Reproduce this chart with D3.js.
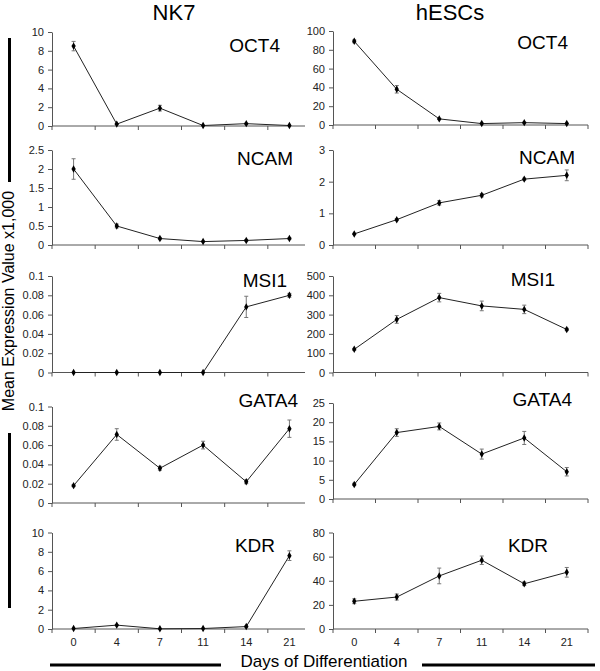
<!DOCTYPE html>
<html><head><meta charset="utf-8">
<script src="https://cdn.jsdelivr.net/npm/d3@7"></script>
<style>body{margin:0;background:#fff}svg{display:block}</style>
</head><body>
<svg id="c" width="600" height="671"></svg>
<script>
// ---- data ----
const days = ["0","4","7","11","14","21"];
const genes = ["OCT4","NCAM","MSI1","GATA4","KDR"];
const columnTitles = ["NK7","hESCs"];

const nk7OCT4 = [8.5, 0.2, 1.9, 0.05, 0.25, 0.05];
const nk7OCT4Err = [0.5, 0.05, 0.3, 0, 0.05, 0];
const nk7NCAM = [2.0, 0.5, 0.17, 0.09, 0.12, 0.17];
const nk7NCAMErr = [0.27, 0.05, 0.03, 0.01, 0.02, 0.02];
const nk7MSI1 = [0, 0, 0, 0, 0.068, 0.080];
const nk7MSI1Err = [0, 0, 0, 0, 0.011, 0.002];
const nk7GATA4 = [0.018, 0.071, 0.036, 0.060, 0.022, 0.077];
const nk7GATA4Err = [0.001, 0.006, 0.002, 0.004, 0.002, 0.009];
const nk7KDR = [0.05, 0.4, 0.02, 0.05, 0.25, 7.6];
const nk7KDRErr = [0, 0.05, 0, 0, 0.05, 0.5];

const hescOCT4 = [89, 38, 6.5, 1.5, 2.5, 1.5];
const hescOCT4Err = [1.5, 4, 0.5, 0.3, 0.5, 0.3];
const hescNCAM = [0.35, 0.8, 1.33, 1.57, 2.08, 2.2];
const hescNCAMErr = [0.02, 0.03, 0.07, 0.05, 0.03, 0.17];
const hescMSI1 = [120, 275, 388, 345, 327, 223];
const hescMSI1Err = [5, 20, 22, 25, 22, 6];
const hescGATA4 = [3.8, 17.3, 18.9, 11.7, 15.9, 7.1];
const hescGATA4Err = [0.3, 1.0, 0.9, 1.3, 1.7, 1.1];
const hescKDR = [23, 26.5, 44, 57, 37.5, 47];
const hescKDRErr = [2, 2.5, 6.5, 3.5, 1.5, 4];

const nk7Ticks = [[0,2,4,6,8,10],[0,0.5,1,1.5,2,2.5],[0,0.02,0.04,0.06,0.08,0.1],[0,0.02,0.04,0.06,0.08,0.1],[0,2,4,6,8,10]];
const nk7TickLabels = [["0","2","4","6","8","10"],["0","0.5","1","1.5","2","2.5"],["0","0.02","0.04","0.06","0.08","0.1"],["0","0.02","0.04","0.06","0.08","0.1"],["0","2","4","6","8","10"]];
const hescTicks = [[0,20,40,60,80,100],[0,1,2,3],[0,100,200,300,400,500],[0,5,10,15,20,25],[0,20,40,60,80]];

const xTitle = "Days of Differentiation";
const yTitle = "Mean Expression Value x1,000";

// ---- layout ----
const svg = d3.select("#c");
const font = "'Liberation Sans', Arial, Helvetica, sans-serif";
const cols = [
  {x0: 52, x1: 311, axEnd: 305, labelEnd: [280, 293, 287, 298, 275],
   panelsY: [[32,126],[150,245],[276,372.5],[406.5,503],[532.5,629]],
   labelBase: [52,165,287,407,552],
   vals: [nk7OCT4,nk7NCAM,nk7MSI1,nk7GATA4,nk7KDR],
   errs: [nk7OCT4Err,nk7NCAMErr,nk7MSI1Err,nk7GATA4Err,nk7KDRErr],
   ticks: nk7Ticks, tickLabels: nk7TickLabels},
  {x0: 333, x1: 588, axEnd: 588, labelEnd: [568, 575, 555, 572, 548],
   panelsY: [[31,125],[150,245],[276,372.5],[403,499],[532.5,629]],
   labelBase: [49,164,286,406,552],
   vals: [hescOCT4,hescNCAM,hescMSI1,hescGATA4,hescKDR],
   errs: [hescOCT4Err,hescNCAMErr,hescMSI1Err,hescGATA4Err,hescKDRErr],
   ticks: hescTicks, tickLabels: hescTicks.map(a => a.map(String))}
];

const axisColor = "#555";
cols.forEach((col, ci) => {
  const x = d3.scaleBand().domain(days).range([col.x0, col.x1]).paddingInner(0).paddingOuter(0);
  genes.forEach((g, gi) => {
    const [yTop, yBot] = col.panelsY[gi];
    const tk = col.ticks[gi];
    const y = d3.scaleLinear().domain([0, tk[tk.length-1]]).range([yBot, yTop]);
    const gp = svg.append("g");

    // y axis
    const ya = gp.append("g").attr("transform", `translate(${col.x0},0)`)
      .call(d3.axisLeft(y).tickValues(tk).tickFormat((d,i) => col.tickLabels[gi][i]).tickSize(4).tickSizeOuter(0).tickPadding(4));
    ya.select(".domain").attr("stroke", axisColor);
    ya.selectAll(".tick line").attr("stroke", axisColor);
    ya.selectAll("text").attr("font-family", font).attr("font-size", 11).attr("fill", "#222");

    // x axis
    const boundaries = days.map(d => x(d)).concat([col.x1]);
    const xa = gp.append("g").attr("transform", `translate(0,${yBot})`);
    xa.append("line").attr("x1", col.x0).attr("x2", col.axEnd).attr("y1", 0).attr("y2", 0).attr("stroke", axisColor);
    xa.selectAll("line.tk").data(boundaries.filter(b => b <= col.axEnd)).join("line").attr("class","tk")
      .attr("x1", d => d).attr("x2", d => d).attr("y1", 0).attr("y2", 4).attr("stroke", axisColor);
    if (gi === genes.length - 1) {
      xa.selectAll("text.xl").data(days).join("text").attr("class","xl")
        .attr("x", d => x(d) + x.bandwidth()/2).attr("y", 17)
        .attr("text-anchor", "middle").attr("font-family", font).attr("font-size", 11).attr("fill", "#222")
        .text(d => d);
    }

    const vals = col.vals[gi], errs = col.errs[gi];
    const cx = i => x(days[i]) + x.bandwidth()/2;

    // error bars
    const eb = gp.append("g").attr("stroke", "#777").attr("stroke-width", 1);
    vals.forEach((v, i) => {
      if (errs[i] <= 0) return;
      const a = y(v + errs[i]), b = y(Math.max(0, v - errs[i]));
      eb.append("line").attr("x1", cx(i)).attr("x2", cx(i)).attr("y1", a).attr("y2", b);
      eb.append("line").attr("x1", cx(i)-2).attr("x2", cx(i)+2).attr("y1", a).attr("y2", a);
      eb.append("line").attr("x1", cx(i)-2).attr("x2", cx(i)+2).attr("y1", b).attr("y2", b);
    });

    // line
    const line = d3.line().x((d,i) => cx(i)).y(d => y(d));
    gp.append("path").datum(vals).attr("d", line).attr("fill", "none").attr("stroke", "#222").attr("stroke-width", 1);

    // markers (diamonds)
    gp.selectAll("path.mk").data(vals).join("path").attr("class","mk")
      .attr("d", d3.symbol(d3.symbolDiamond, 16))
      .attr("transform", (d,i) => `translate(${cx(i)},${y(d)})`)
      .attr("fill", "#000");

    // panel label
    gp.append("text").attr("x", col.labelEnd[gi]).attr("y", col.labelBase[gi])
      .attr("text-anchor", "end").attr("font-family", font).attr("font-size", 19).attr("fill", "#000")
      .text(g);
  });
});

// column titles
svg.selectAll("text.ct").data(columnTitles).join("text").attr("class","ct")
  .attr("x", (d,i) => [174, 450][i]).attr("y", 20)
  .attr("text-anchor", "middle").attr("font-family", font).attr("font-size", 22).attr("fill", "#000")
  .text(d => d);

// axis titles
svg.append("text").attr("x", 324).attr("y", 667)
  .attr("text-anchor", "middle").attr("font-family", font).attr("font-size", 17).attr("fill", "#000")
  .text(xTitle);
svg.append("text").attr("transform", "translate(14,301) rotate(-90)")
  .attr("text-anchor", "middle").attr("font-family", font).attr("font-size", 16).attr("fill", "#000")
  .text(yTitle);

// decorative thick bars
const bars = [[9.5,38,9.5,182],[9.5,433,9.5,608],[50,665,221,665],[422,665,595,665]];
svg.selectAll("line.bar").data(bars).join("line").attr("class","bar")
  .attr("x1", d => d[0]).attr("y1", d => d[1]).attr("x2", d => d[2]).attr("y2", d => d[3])
  .attr("stroke", "#000").attr("stroke-width", 3);
</script>
</body></html>
